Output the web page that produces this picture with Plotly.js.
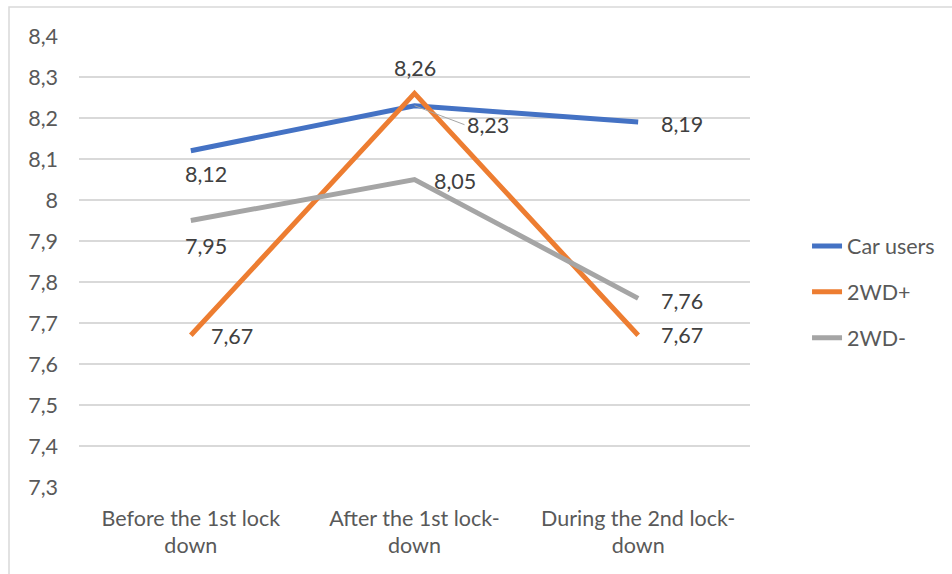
<!DOCTYPE html>
<html>
<head>
<meta charset="utf-8">
<script src="https://cdn.plot.ly/plotly-3.0.1.min.js"></script>
<style>
html,body{margin:0;padding:0;background:#fff;}
#chart{width:952px;height:574px;}
</style>
</head>
<body>
<div id="chart"></div>
<script>
const categories = ["Before the 1st lock<br>down", "After the 1st lock-<br>down", "During the 2nd lock-<br>down"];
const seriesNames = ["Car users", "2WD+", "2WD-"];
const carUsers = [8.12, 8.23, 8.19];
const wdPlus = [7.67, 8.26, 7.67];
const wdMinus = [7.95, 8.05, 7.76];
const yTickVals = [7.3, 7.4, 7.5, 7.6, 7.7, 7.8, 7.9, 8.0, 8.1, 8.2, 8.3, 8.4];
const yTickText = ["7,3", "7,4", "7,5", "7,6", "7,7", "7,8", "7,9", "8", "8,1", "8,2", "8,3", "8,4"];

const colors = ["#4472C4", "#ED7D31", "#A5A5A5"];
const allValues = [carUsers, wdPlus, wdMinus];

// label offsets (pixels) per series per point
const labelOffsets = [
  [[15, 23], [50, 19], [44, 2]],
  [[41, 1], [0, -25], [44, 0]],
  [[15, 25], [40, 1], [44, 3]]
];

const fmt = v => v.toFixed(2).replace('.', ',');
const FONT = 'Lato, sans-serif';
const FS = 21.5;

const traces = allValues.map((vals, i) => ({
  type: 'scatter',
  mode: 'lines',
  x: categories,
  y: vals,
  name: seriesNames[i],
  legendgroup: 'g' + i,
  line: {color: colors[i], width: 5},
  hoverinfo: 'skip'
}));

const annotations = [];
allValues.forEach((vals, i) => {
  vals.forEach((v, j) => {
    const off = labelOffsets[i][j];
    const withLeader = (i === 0 && j === 1);
    annotations.push({
      x: categories[j], y: v, xref: 'x', yref: 'y',
      text: fmt(v),
      showarrow: withLeader,
      arrowhead: 0, arrowwidth: 1, arrowcolor: '#A6A6A6',
      standoff: 0,
      ax: withLeader ? off[0] : 0, ay: withLeader ? off[1] : 0,
      xshift: withLeader ? 0 : off[0],
      yshift: withLeader ? 0 : -off[1],
      font: {family: FONT, size: FS, color: '#404040'},
      xanchor: withLeader ? 'left' : 'center',
      yanchor: 'middle'
    });
  });
});

const layout = {
  width: 952, height: 574,
  margin: {l: 79, r: 202, t: 36, b: 87},
  paper_bgcolor: '#fff', plot_bgcolor: '#fff',
  separators: ', ',
  font: {family: FONT, size: FS, color: '#595959'},
  showlegend: true,
  legend: {
    x: 1.085, xanchor: 'left', y: 0.58, yanchor: 'top',
    traceorder: 'grouped', tracegroupgap: 15,
    font: {family: FONT, size: FS, color: '#595959'},
    bgcolor: 'rgba(0,0,0,0)'
  },
  xaxis: {
    type: 'category', range: [-0.5, 2.5],
    showgrid: false, zeroline: false, showline: false, ticks: '',
    tickfont: {family: FONT, size: FS, color: '#595959'},
    ticklabelstandoff: 16
  },
  yaxis: {
    range: [7.3, 8.4], tickvals: yTickVals, ticktext: yTickText,
    showgrid: true, gridcolor: '#D9D9D9', gridwidth: 1.5,
    zeroline: false, showline: false, ticks: '',
    tickfont: {family: FONT, size: FS, color: '#595959'},
    ticklabelstandoff: 20
  },
  annotations: annotations,
  shapes: [{
    type: 'rect', xref: 'paper', yref: 'paper', layer: 'below',
    x0: (9 - 79) / 671, x1: 1.5, y0: -0.5, y1: 1 + (36 - 7) / 451,
    line: {color: '#D9D9D9', width: 1.5}, fillcolor: 'rgba(0,0,0,0)'
  }]
};

Plotly.newPlot('chart', traces, layout, {displayModeBar: false, staticPlot: true});
</script>
</body>
</html>
